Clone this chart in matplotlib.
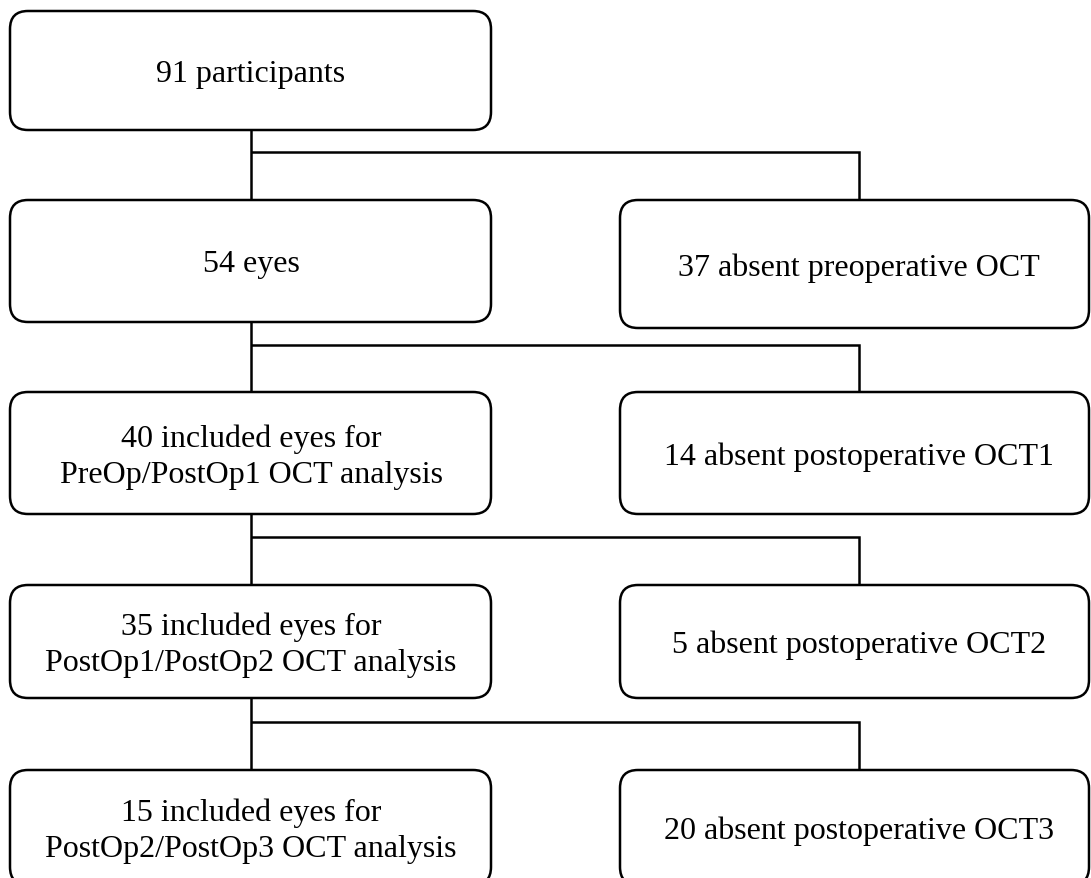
"""Flow diagram of included / excluded eyes for OCT analysis."""
import matplotlib
matplotlib.use('Agg')
import matplotlib.pyplot as plt
from matplotlib.patches import FancyBboxPatch

plt.rcParams['font.family'] = ['Liberation Serif', 'DejaVu Serif']

# Data
left_counts = [91, 54, 40, 35, 15]
left_texts = [
    'participants',
    'eyes',
    'included eyes for\nPreOp/PostOp1 OCT analysis',
    'included eyes for\nPostOp1/PostOp2 OCT analysis',
    'included eyes for\nPostOp2/PostOp3 OCT analysis',
]
right_counts = [37, 14, 5, 20]
right_texts = [
    'absent preoperative OCT',
    'absent postoperative OCT1',
    'absent postoperative OCT2',
    'absent postoperative OCT3',
]

# Layout (pixels, y down)
W, H = 1091, 879
LX0, LX1 = 10, 491
RX0, RX1 = 620, 1089
left_rows = [(12, 131), (201, 323), (393, 515), (586, 699), (771, 886)]
right_rows = [(201, 329), (393, 515), (586, 699), (771, 886)]
branch_y = [153, 346, 538, 723]
lx_mid = 251
rx_mid = 859
LW = 1.8
RADIUS = 18
FS = 23
DY = 3  # text sits a bit below the geometric centre

fig = plt.figure(figsize=(W / 100, H / 100), dpi=100)
ax = fig.add_axes([0, 0, 1, 1])
ax.set_xlim(0, W)
ax.set_ylim(H, 0)
ax.axis('off')


def box(x0, x1, y0, y1, label, tx):
    p = FancyBboxPatch((x0, y0), x1 - x0, y1 - y0,
                       boxstyle=f'round,pad=0,rounding_size={RADIUS}',
                       fc='white', ec='black', lw=LW, zorder=2)
    ax.add_patch(p)
    ax.text(tx, (y0 + y1) / 2 + DY, label, ha='center', va='center',
            fontsize=FS, linespacing=1.32, zorder=3)


for (y0, y1), n, t in zip(left_rows, left_counts, left_texts):
    box(LX0, LX1, y0, y1, f'{n} {t}', lx_mid)

for (y0, y1), n, t in zip(right_rows, right_counts, right_texts):
    box(RX0, RX1, y0, y1, f'{n} {t}', rx_mid)

# connectors
for i, by in enumerate(branch_y):
    ax.plot([lx_mid, lx_mid], [left_rows[i][1], left_rows[i + 1][0]],
            color='black', lw=LW, zorder=1, solid_capstyle='butt')
    ax.plot([lx_mid, rx_mid, rx_mid], [by, by, right_rows[i][0]], color='black', lw=LW,
            zorder=1, solid_capstyle='butt', solid_joinstyle='miter')

fig.savefig('out.png', dpi=100, facecolor='white')
